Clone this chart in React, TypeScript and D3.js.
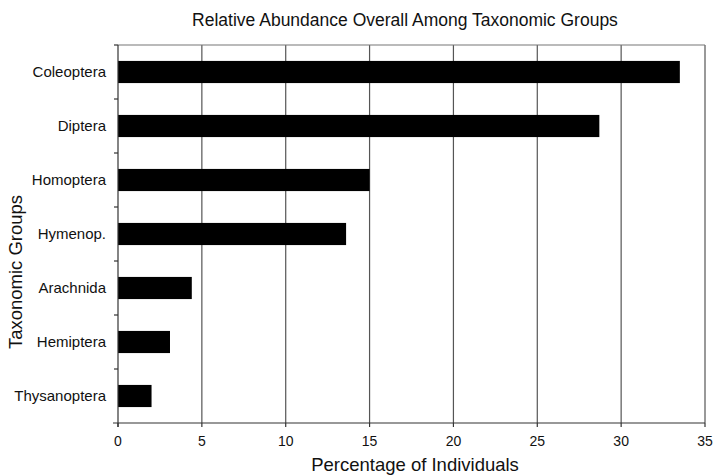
import React from "react";
import * as d3 from "d3";

const categories = ["Coleoptera", "Diptera", "Homoptera", "Hymenop.", "Arachnida", "Hemiptera", "Thysanoptera"];
const values = [33.5, 28.7, 15.0, 13.6, 4.4, 3.1, 2.0];
const xTicks = [0, 5, 10, 15, 20, 25, 30, 35];

const W = 714, H = 476;
const M = { left: 118, right: 9, top: 45, bottom: 53 };

export default function App() {
  const x = d3.scaleLinear().domain([0, 35]).range([M.left, W - M.right]);
  const y = d3.scaleBand<string>().domain(categories).range([M.top, H - M.bottom]).paddingInner(0.59).paddingOuter(0.295);
  const yb = d3.scaleBand<string>().domain(categories).range([M.top, H - M.bottom]);
  const font = "'Liberation Sans', Arial, sans-serif";
  const bottom = H - M.bottom;
  return (
    <svg width={W} height={H} style={{ position: "absolute", left: 0, top: 0, background: "#fff" }} fontFamily={font}>
      <rect x={0} y={0} width={W} height={H} fill="#fff" />
      <text x={405} y={26} textAnchor="middle" fontSize={17.5} fill="#111">Relative Abundance Overall Among Taxonomic Groups</text>
      {/* grid */}
      {xTicks.slice(1).map((t) => (
        <line key={t} x1={x(t)} x2={x(t)} y1={M.top} y2={bottom} stroke="#555" strokeWidth={1.2} />
      ))}
      <line x1={M.left} x2={W - M.right} y1={M.top} y2={M.top} stroke="#777" strokeWidth={1.2} />
      {/* bars */}
      {categories.map((c, i) => (
        <rect key={c} x={x(0)} y={y(c)!} width={x(values[i]) - x(0)} height={y.bandwidth()} fill="#000" />
      ))}
      {/* axes */}
      <line x1={M.left} x2={M.left} y1={M.top} y2={bottom + 4} stroke="#333" strokeWidth={1.2} />
      <line x1={M.left - 5} x2={W - M.right} y1={bottom} y2={bottom} stroke="#333" strokeWidth={1.2} />
      {xTicks.map((t) => (
        <g key={t}>
          <line x1={x(t)} x2={x(t)} y1={bottom} y2={bottom + 4} stroke="#333" strokeWidth={1.2} />
          <text x={x(t)} y={bottom + 23} textAnchor="middle" fontSize={14} fill="#111">{t}</text>
        </g>
      ))}
      {categories.map((c) => (
        <g key={c}>
          <line x1={M.left - 4} x2={M.left} y1={yb(c)!} y2={yb(c)!} stroke="#333" strokeWidth={1.2} />
          <text x={106} y={yb(c)! + yb.bandwidth() / 2 + 5} textAnchor="end" fontSize={15} fill="#111">{c}</text>
        </g>
      ))}
      <text x={415} y={471} textAnchor="middle" fontSize={18.5} fill="#111">Percentage of Individuals</text>
      <text transform={`translate(22,272) rotate(-90)`} textAnchor="middle" fontSize={18.5} fill="#111">Taxonomic Groups</text>
    </svg>
  );
}
